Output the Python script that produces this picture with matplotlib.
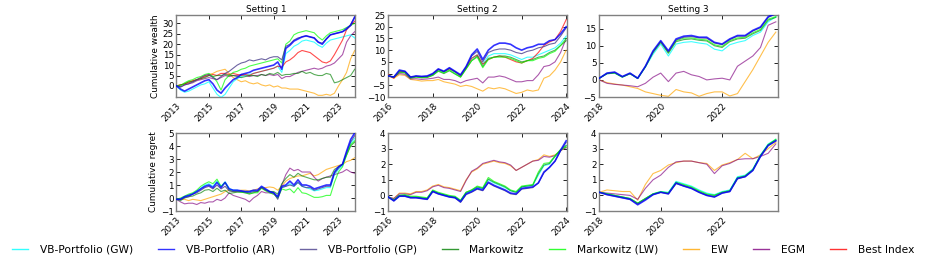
import numpy as np
import matplotlib
matplotlib.use("Agg")
import matplotlib.pyplot as plt
from matplotlib.lines import Line2D

# ---------------- data ----------------
labels = ["VB-Portfolio (GW)", "VB-Portfolio (AR)", "VB-Portfolio (GP)", "Markowitz",
          "Markowitz (LW)", "EW", "EGM", "Best Index"]
titles = ["Setting 1", "Setting 2", "Setting 3"]

t1 = np.arange(45) * 0.25 + 2013.0
t2 = np.arange(33) * 0.25 + 2016.0
t3 = np.arange(24) * 0.25 + 2018.0

xt1 = [2013, 2015, 2017, 2019, 2021, 2023]
xt2 = [2016, 2018, 2020, 2022, 2024]
xt3 = [2018, 2020, 2022]

# Setting 1 - cumulative wealth
w1_gw = [0, -2, -3, -2.5, -1.5, -0.5, 0.5, 1, 2, -1, -4, -5.5, -4, -1, 2, 3.5, 4.5, 5, 5.5, 6, 6.5, 7, 7.5, 8,
         8.5, 9.5, 6.5, 15.5, 17, 19, 20, 21.5, 22, 21.5, 21, 19.5, 18.5, 20.5, 22, 22.5, 23, 23.5, 24, 24.5, 23]
w1_ar = [0, -1.5, -2.5, -1.5, -0.5, 0.5, 1.5, 2.5, 3, 1, -2, -3.5, -1, 1, 3, 4, 5.5, 6, 6.5, 7.5, 8, 8.5, 9, 9.5,
         10, 11.5, 8, 18, 19.5, 21.5, 22.5, 23.5, 24, 23.5, 23, 21, 20, 22.5, 24.5, 25, 25.5, 26, 27.5, 29, 33]
w1_gp = [0, -0.5, 0.5, 1, 2, 3, 4, 5, 5.5, 4, 3, 4.5, 6, 7, 8.5, 10, 11, 11.5, 12.5, 12, 12.5, 13, 12.5, 13.5,
         14, 14, 12.5, 19, 20, 22, 23, 23.5, 24, 23.5, 23, 21, 20.5, 22.5, 24.5, 25, 25.5, 26, 27, 29.5, 33]
w1_mk = [0, 0.5, 1, 2, 2, 3, 3.5, 4, 5, 4.5, 5, 5, 5.5, 5, 5, 4.5, 4, 4.5, 5, 5, 4.5, 5.5, 5, 6,
         5.5, 6.5, 5, 5.5, 5.5, 6, 6, 7, 6, 6.5, 5.5, 5, 5, 6, 5.5, 1.5, 2, 3, 4, 5, 8]
w1_lw = [0, 0, 1.5, 2.5, 3, 4, 4.5, 5.5, 6, 4.5, 2, -2, 3, 5, 6.5, 7, 8, 8.5, 9.5, 10, 10.5, 11, 11.5, 12,
         12.5, 13, 11, 20, 21.5, 24.5, 25.5, 26, 26.5, 26, 25.5, 23.5, 22, 24, 25.5, 26, 26.5, 27, 28, 29, 30]
w1_ew = [0, 0.5, 1, 2, 2.5, 3, 4, 5, 5.5, 6, 7, 7.5, 8, 6, 4, 3, 2, 2.5, 1.5, 1, 1.5, 0.5, 0, 0.5,
         -0.5, 0, -1, -1, -1.5, -1.5, -1.5, -2, -2.5, -3, -3.5, -4.5, -4.5, -4, -4.5, -3.5, 0, 3, 6.5, 13, 17]
w1_egm = [0, -0.5, 0.5, 1, 1.5, 2.5, 3, 3.5, 4, 3.5, 3, 4, 5, 4.5, 5, 5, 5.5, 5, 4.5, 5, 5, 5.5, 5, 5.5,
          5, 5.5, 3.5, 4.5, 4.5, 5.5, 6.5, 7, 7.5, 8, 8.5, 8, 8.5, 9.5, 10, 11, 13, 15, 21, 24, 26]
w1_best = [0, 0.5, 1, 1.5, 2.5, 3, 3.5, 4.5, 5, 5.5, 5, 6, 6, 5.5, 6, 5.5, 5, 5.5, 5, 6, 6.5, 7, 7.5, 8,
           8.5, 9.5, 9, 11.5, 12.5, 14, 16, 17, 16.5, 16, 14.5, 13, 11.5, 11, 12, 15, 18.5, 22, 27, 29, 31]

# Setting 2 - cumulative wealth
w2_gw = [-1, -1.5, 1, 0.8, -1.6, -1.2, -1.5, -1.4, -0.5, 1.5, 0.5, 2, 0.5, -1.2, 2.5, 6.5, 8, 4, 7.5, 8.5,
         8.5, 8.5, 8, 7, 6, 7, 7, 8, 9, 10, 11, 13, 16]
w2_ar = [-1, -1.5, 1.5, 1, -1.5, -1, -1.2, -1, 0, 2, 1, 2.5, 1, -0.5, 3, 8, 10.5, 6, 10, 12,
         13, 13, 12.5, 11, 10, 11, 11.5, 12.5, 12.5, 14, 14.5, 17, 20]
w2_gp = [-1, -1.5, 1.2, 0.9, -1.6, -1.1, -1.3, -1.2, -0.2, 1.8, 0.8, 2.3, 0.8, -0.8, 2.8, 7.5, 9.5, 5, 9, 10,
         10.5, 10.5, 10, 9, 8.5, 9.5, 10, 11, 11.5, 12.5, 13, 16, 19.5]
w2_mk = [-1, -1.5, 0.5, 0.3, -2, -1.5, -1.8, -1.7, -0.8, 1, 0, 1.2, -0.2, -1.5, 2, 5.5, 7.5, 3, 6.5, 7,
         7.5, 7.5, 7, 6, 5, 5.5, 6, 7, 7.5, 9, 10, 12, 14]
w2_lw = [-1, -1.5, 0.8, 0.5, -1.8, -1.4, -1.7, -1.5, -0.7, 1.2, 0.3, 1.5, 0, -1.5, 2, 5.5, 7, 2.5, 6, 7,
         7, 7, 6.5, 5.5, 4.5, 5.5, 5.5, 6.5, 7, 8.5, 9.5, 12, 15]
w2_ew = [-1, -2, -0.5, -0.8, -2.5, -2.8, -3.2, -3, -3, -2.5, -3.5, -4, -4.5, -5.5, -5, -5.5, -6.5, -7.5, -6, -6.5,
         -6, -6.5, -7.5, -8.5, -8, -7, -7.5, -7, -2, -1, 1.5, 5, 10]
w2_egm = [-1, -1.5, 0, -0.3, -2.3, -2.2, -2.5, -2.3, -2, -1.5, -2.5, -2.5, -3, -4, -3, -2.5, -2, -4, -1.5, -1.5,
          -1, -1.5, -2.5, -3.5, -3.5, -3, -3, -0.5, 3, 3.5, 5, 9, 15]
w2_best = [-0.5, -2, 1, 0.7, -1.5, -1.2, -1.5, -1.3, -0.3, 1.8, 0.8, 2, 0.8, -1, 2.5, 6.5, 8, 4, 6, 7,
           7.5, 7, 6, 5, 4.5, 5.5, 6.5, 9, 12, 13.5, 14.5, 18, 23]

# Setting 3 - cumulative wealth
w3_gw = [0.5, 1.8, 2, 0.8, 1.8, 0.4, 3.7, 7.5, 10.5, 7, 10.5, 11, 11.2, 10.8, 10.5, 9, 8.5, 10.3, 11, 11.5,
         13, 14, 17, 18.5]
w3_ar = [0.5, 2, 2.3, 1, 2, 0.5, 4, 8.5, 11.5, 8.5, 12, 12.8, 13, 12.5, 12.5, 11, 10.5, 12, 13, 13,
         14.5, 15.5, 18.5, 19.5]
w3_gp = [0.5, 1.9, 2.2, 0.9, 1.9, 0.5, 3.9, 8.2, 11.2, 8.2, 11.7, 12.5, 12.7, 12.3, 12.2, 10.8, 10.3, 11.8, 12.8, 12.8,
         14.3, 15.3, 18.3, 19.3]
w3_mk = [0.5, 1.8, 2, 0.8, 1.8, 0.4, 3.8, 8, 11, 7.8, 11.2, 11.8, 12, 11.6, 11.4, 10, 9.5, 11.2, 12, 12.2,
         13.5, 14.5, 17.5, 18.3]
w3_lw = [0.5, 1.9, 2.1, 0.9, 1.9, 0.5, 3.9, 8.2, 11.2, 8, 11.5, 12.2, 12.3, 11.9, 11.7, 10.3, 9.8, 11.5, 12.3, 12.5,
         13.8, 14.8, 17.8, 18.5]
w3_ew = [0, -0.8, -1.2, -1.5, -2, -2.5, -3.5, -4, -4.5, -4.8, -2.8, -3.5, -3.8, -4.8, -4, -3.5, -3.5, -4.7, -4, -0.5,
         3, 7, 11, 14]
w3_egm = [0, -1, -1.3, -1.5, -1.7, -2, -1, 0.8, 2, -0.5, 2, 2.5, 1.5, 1, 0, 0.3, 0.5, 0, 4, 5.5,
          7, 9.5, 16, 17]

# Setting 1 - cumulative regret
r1_gw = [-0.1, -0.05, 0.1, 0.2, 0.35, 0.5, 0.75, 1.0, 1.1, 0.9, 1.3, 0.9, 1.25, 0.75, 0.6, 0.6, 0.5, 0.5, 0.5, 0.55,
         0.5, 0.85, 0.65, 0.5, 0.4, 0.0, 0.8, 0.9, 1.1, 0.9, 1.2, 0.9, 0.8, 0.7, 0.55, 0.6, 0.7, 0.8, 0.8, 1.8,
         2.2, 2.5, 3.4, 4.2, 4.6]
r1_ar = [-0.1, -0.1, 0.1, 0.2, 0.3, 0.5, 0.7, 0.9, 1.0, 0.8, 1.2, 0.8, 1.2, 0.7, 0.6, 0.6, 0.55, 0.5, 0.5, 0.6,
         0.6, 0.9, 0.7, 0.5, 0.4, 0.1, 0.9, 1.0, 1.3, 1.0, 1.4, 1.0, 1.0, 0.9, 0.7, 0.8, 0.9, 1.0, 1.0, 2.0,
         2.4, 2.6, 3.6, 4.5, 5.0]
r1_gp = [-0.1, -0.1, 0.05, 0.1, 0.3, 0.4, 0.6, 0.8, 0.9, 0.7, 1.0, 0.7, 0.9, 0.55, 0.5, 0.5, 0.5, 0.45, 0.4, 0.5,
         0.5, 0.8, 0.6, 0.45, 0.4, -0.1, 0.8, 0.9, 1.0, 0.9, 1.2, 0.9, 0.8, 0.8, 0.6, 0.7, 0.8, 0.9, 0.9, 1.9,
         2.3, 2.6, 3.5, 4.3, 4.8]
r1_mk = [-0.1, -0.2, 0.0, 0.1, 0.15, 0.3, 0.4, 0.6, 0.65, 0.5, 0.75, 0.5, 0.6, 0.35, 0.4, 0.45, 0.45, 0.4, 0.3, 0.4,
         0.5, 0.8, 0.6, 0.5, 0.5, 0.3, 1.1, 1.5, 1.8, 1.6, 1.9, 1.7, 1.6, 1.5, 1.4, 1.4, 1.5, 1.6, 1.6, 2.2,
         2.4, 2.6, 3.3, 4.0, 4.3]
r1_lw = [-0.1, 0.0, 0.15, 0.3, 0.4, 0.6, 0.9, 1.1, 1.25, 1.1, 1.45, 0.9, 1.2, 0.6, 0.5, 0.5, 0.45, 0.4, 0.35, 0.4,
         0.4, 0.75, 0.55, 0.4, 0.3, 0.0, 0.7, 0.6, 0.7, 0.4, 0.8, 0.4, 0.35, 0.2, 0.05, 0.05, 0.1, 0.2, 0.2, 1.2,
         2.0, 2.4, 3.3, 4.1, 4.4]
r1_ew = [-0.1, -0.1, -0.1, -0.2, -0.1, -0.15, -0.2, -0.1, 0.0, 0.1, 0.2, 0.3, 0.5, 0.6, 0.5, 0.5, 0.6, 0.6, 0.55, 0.6,
         0.7, 0.8, 0.8, 0.85, 0.8, 0.6, 0.9, 1.3, 1.5, 1.6, 1.7, 1.7, 1.8, 1.9, 1.7, 1.8, 2.0, 2.2, 2.3, 2.4,
         2.5, 2.6, 2.8, 2.9, 3.1]
r1_egm = [-0.1, -0.3, -0.45, -0.4, -0.4, -0.5, -0.35, -0.4, -0.3, -0.3, -0.1, -0.2, 0.0, 0.4, 0.2, 0.1, 0.0, -0.1, -0.3, 0.0,
          0.2, 0.5, 0.4, 0.4, 0.3, 0.1, 1.0, 1.8, 2.3, 2.1, 2.2, 2.0, 2.0, 2.0, 1.6, 1.3, 1.5, 1.6, 1.7, 1.8,
          1.9, 2.0, 2.2, 2.0, 1.9]

# Setting 2 - cumulative regret
r2_gw = [-0.1, -0.3, 0.0, 0.0, -0.1, -0.1, -0.15, -0.2, 0.3, 0.15, 0.05, -0.05, -0.1, -0.35, 0.15, 0.3, 0.5, 0.45, 1.0, 0.8,
         0.65, 0.5, 0.3, 0.2, 0.55, 0.6, 0.65, 1.3, 1.9, 2.0, 2.5, 2.9, 3.2]
r2_ar = [-0.1, -0.35, -0.05, -0.05, -0.15, -0.15, -0.2, -0.25, 0.25, 0.1, 0.0, -0.1, -0.15, -0.4, 0.1, 0.25, 0.45, 0.35, 0.85, 0.65,
         0.5, 0.35, 0.15, 0.1, 0.45, 0.5, 0.55, 0.8, 1.5, 1.8, 2.2, 2.9, 3.5]
r2_gp = [-0.1, -0.35, -0.05, -0.05, -0.15, -0.15, -0.2, -0.25, 0.25, 0.1, 0.0, -0.1, -0.15, -0.45, 0.05, 0.2, 0.4, 0.3, 0.8, 0.6,
         0.45, 0.3, 0.1, 0.05, 0.4, 0.45, 0.5, 0.8, 1.45, 1.8, 2.2, 2.85, 3.4]
r2_mk = [-0.1, -0.3, 0.0, 0.0, -0.1, -0.1, -0.15, -0.2, 0.3, 0.15, 0.05, -0.05, -0.1, -0.35, 0.2, 0.35, 0.55, 0.45, 1.05, 0.85,
         0.7, 0.55, 0.3, 0.2, 0.55, 0.6, 0.65, 1.4, 1.95, 2.05, 2.5, 2.9, 3.2]
r2_lw = [-0.1, -0.3, 0.0, 0.05, -0.05, -0.05, -0.1, -0.15, 0.35, 0.2, 0.1, 0.0, -0.05, -0.3, 0.2, 0.35, 0.6, 0.5, 1.15, 0.9,
         0.75, 0.6, 0.35, 0.25, 0.6, 0.65, 0.7, 1.5, 2.05, 2.1, 2.55, 2.95, 3.1]
r2_ew = [-0.1, -0.2, 0.15, 0.15, 0.1, 0.25, 0.25, 0.35, 0.6, 0.7, 0.55, 0.5, 0.4, 0.3, 1.0, 1.5, 1.7, 2.0, 2.1, 2.2,
         2.1, 2.05, 1.9, 1.6, 1.8, 2.0, 2.2, 2.3, 2.6, 2.5, 2.6, 2.85, 3.1]
r2_egm = [-0.1, -0.2, 0.1, 0.1, 0.05, 0.2, 0.2, 0.3, 0.55, 0.65, 0.5, 0.45, 0.35, 0.25, 0.95, 1.55, 1.75, 2.05, 2.15, 2.25,
          2.15, 2.1, 1.95, 1.6, 1.8, 2.0, 2.2, 2.25, 2.5, 2.45, 2.55, 2.9, 3.05]

# Setting 3 - cumulative regret
r3_gw = [0.2, 0.1, 0.0, -0.1, -0.2, -0.5, -0.2, 0.1, 0.25, 0.2, 0.9, 0.75, 0.6, 0.35, 0.15, 0.05, 0.25, 0.35, 1.2, 1.3,
         1.7, 2.6, 3.3, 3.6]
r3_ar = [0.2, 0.05, -0.05, -0.15, -0.25, -0.6, -0.3, 0.05, 0.2, 0.1, 0.8, 0.6, 0.45, 0.2, 0.0, -0.1, 0.15, 0.25, 1.1, 1.2,
         1.6, 2.5, 3.2, 3.5]
r3_gp = [0.2, 0.05, -0.05, -0.15, -0.25, -0.55, -0.25, 0.05, 0.2, 0.1, 0.75, 0.6, 0.45, 0.2, 0.0, -0.1, 0.15, 0.25, 1.05, 1.2,
         1.6, 2.5, 3.2, 3.5]
r3_mk = [0.2, 0.1, 0.0, -0.1, -0.2, -0.5, -0.2, 0.1, 0.2, 0.15, 0.8, 0.65, 0.5, 0.25, 0.05, 0.0, 0.2, 0.3, 1.1, 1.25,
         1.65, 2.55, 3.25, 3.55]
r3_lw = [0.2, 0.1, 0.0, -0.1, -0.2, -0.5, -0.2, 0.1, 0.25, 0.15, 0.85, 0.7, 0.55, 0.3, 0.1, 0.0, 0.2, 0.3, 1.15, 1.25,
         1.65, 2.55, 3.25, 3.6]
r3_ew = [0.2, 0.35, 0.3, 0.25, 0.25, -0.3, 0.7, 1.4, 1.6, 1.95, 2.1, 2.2, 2.2, 2.1, 2.05, 1.6, 1.95, 2.1, 2.3, 2.7,
         2.35, 2.6, 3.0, 3.4]
r3_egm = [0.2, 0.15, 0.1, 0.05, 0.0, -0.25, 0.45, 1.0, 1.3, 1.8, 2.15, 2.2, 2.2, 2.1, 2.0, 1.4, 1.9, 2.05, 2.3, 2.35,
          2.35, 2.5, 2.7, 3.3]

# ---------------- style ----------------
colors = ["cyan", "blue", "darkslateblue", "green", "lime", "orange", "purple", "red"]
alphas = [0.75, 0.8, 0.8, 0.65, 0.7, 0.7, 0.65, 0.7]
widths = [0.8, 1.2, 0.8, 0.8, 0.8, 0.8, 0.8, 0.8]
zorders = [3, 9, 8, 4, 5, 2, 2, 3]

plt.rcParams['font.family'] = ['DejaVu Sans']
fig = plt.figure(figsize=(9.26, 2.67), dpi=100)

lefts = [0.1906, 0.4193, 0.6472]
width = 0.1933
rows = [(0.6367, 0.3071), (0.2097, 0.2921)]

wealth = [
    (t1, [w1_gw, w1_ar, w1_gp, w1_mk, w1_lw, w1_ew, w1_egm, w1_best]),
    (t2, [w2_gw, w2_ar, w2_gp, w2_mk, w2_lw, w2_ew, w2_egm, w2_best]),
    (t3, [w3_gw, w3_ar, w3_gp, w3_mk, w3_lw, w3_ew, w3_egm]),
]
regret = [
    (t1, [r1_gw, r1_ar, r1_gp, r1_mk, r1_lw, r1_ew, r1_egm]),
    (t2, [r2_gw, r2_ar, r2_gp, r2_mk, r2_lw, r2_ew, r2_egm]),
    (t3, [r3_gw, r3_ar, r3_gp, r3_mk, r3_lw, r3_ew, r3_egm]),
]
xlims = [(2013.0, 2024.05), (2016.0, 2024.05), (2018.0, 2023.83)]
xticks = [xt1, xt2, xt3]
ylims_w = [(-5.3, 34.0), (-10, 25), (-5, 19)]
yticks_w = [[0, 5, 10, 15, 20, 25, 30], [-10, -5, 0, 5, 10, 15, 20, 25], [-5, 0, 5, 10, 15]]
ylims_r = [(-1, 5), (-1, 4), (-1, 4)]
yticks_r = [[-1, 0, 1, 2, 3, 4, 5], [-1, 0, 1, 2, 3, 4], [-1, 0, 1, 2, 3, 4]]


def style_ax(ax, j):
    ax.set_xlim(*xlims[j])
    ax.set_xticks(xticks[j])
    ax.set_xticklabels([str(v) for v in xticks[j]], rotation=45, ha='right',
                       rotation_mode='anchor', fontsize=6.3)
    ax.tick_params(direction='in', top=True, right=True, length=3, width=0.6,
                   labelsize=6.3, pad=2, colors='black')
    ax.tick_params(axis='x', pad=3)
    for s in ax.spines.values():
        s.set_color('0.5')
        s.set_linewidth(1.0)


for j in range(3):
    ax = fig.add_axes([lefts[j], rows[0][0], width, rows[0][1]])
    tt, series = wealth[j]
    for k, ys in enumerate(series):
        ax.plot(tt, ys, color=colors[k], alpha=alphas[k], lw=widths[k], zorder=zorders[k])
    ax.set_ylim(*ylims_w[j])
    ax.set_yticks(yticks_w[j])
    style_ax(ax, j)
    ax.set_title(titles[j], fontsize=6.4, pad=2)
    if j == 0:
        ax.set_ylabel("Cumulative wealth", fontsize=6.4, labelpad=2)

    ax2 = fig.add_axes([lefts[j], rows[1][0], width, rows[1][1]])
    tt, series = regret[j]
    for k, ys in enumerate(series):
        ax2.plot(tt, ys, color=colors[k], alpha=alphas[k], lw=widths[k], zorder=zorders[k])
    ax2.set_ylim(*ylims_r[j])
    ax2.set_yticks(yticks_r[j])
    style_ax(ax2, j)
    if j == 0:
        ax2.set_ylabel("Cumulative regret", fontsize=6.4, labelpad=2)

handles = [Line2D([0], [0], color=colors[k], alpha=0.8, lw=1.0) for k in range(8)]
fig.legend(handles, labels, loc='center', bbox_to_anchor=(0.5, 0.064), ncol=8,
           frameon=False, fontsize=7.7, handlelength=1.5, handletextpad=1.1,
           columnspacing=2.35)

fig.savefig("out.png", dpi=100)
